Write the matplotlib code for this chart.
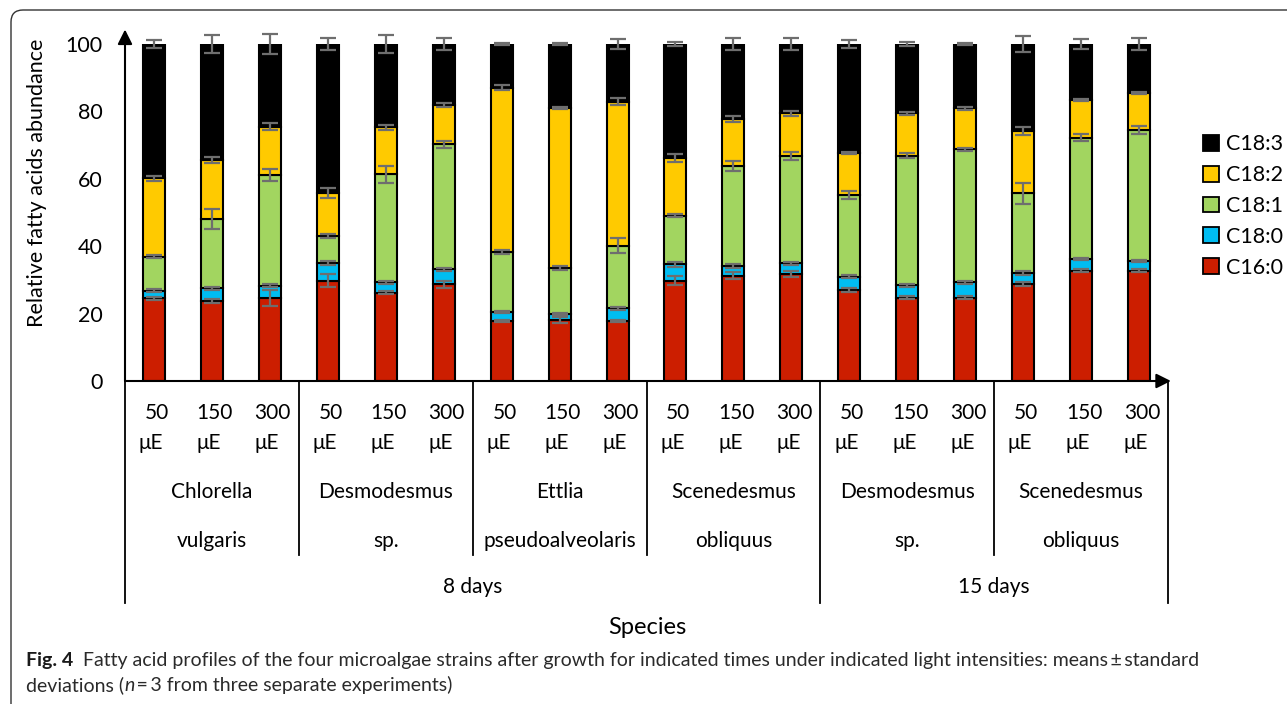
import numpy as np
import matplotlib
matplotlib.use("Agg")
import matplotlib.pyplot as plt
import matplotlib.transforms as mtransforms
from matplotlib.patches import Patch, FancyBboxPatch
from matplotlib.lines import Line2D

plt.rcParams['font.family'] = ['Lato', 'DejaVu Sans']

# light intensities, species and growth times
light = ['50\nμE', '150\nμE', '300\nμE'] * 6
species = ['Chlorella\n\nvulgaris', 'Desmodesmus\n\nsp.', 'Ettlia\n\npseudoalveolaris',
           'Scenedesmus\n\nobliquus', 'Desmodesmus\n\nsp.', 'Scenedesmus\n\nobliquus']
days = ['8 days', '15 days']

acids = ['C16:0', 'C18:0', 'C18:1', 'C18:2', 'C18:3']
colors = ['#CC1E00', '#00BDF2', '#A2D560', '#FFCA00', '#000000']

c16_0 = [24.5, 23.7, 24.7, 29.8, 26.2, 28.7, 17.8, 18.1, 17.8, 29.8, 31.2, 31.7, 27.0, 24.7, 24.7, 28.8, 32.7, 32.7]
c18_0 = [2.3, 3.8, 3.6, 5.3, 3.1, 4.4, 2.6, 1.8, 3.8, 4.8, 2.9, 3.2, 4.0, 3.7, 4.6, 3.3, 3.4, 3.0]
c18_1 = [10.1, 20.6, 32.8, 8.0, 32.0, 37.1, 18.0, 13.5, 18.6, 14.5, 29.7, 31.9, 24.2, 38.5, 39.4, 23.6, 36.1, 38.8]
c18_2 = [23.2, 17.5, 14.4, 12.8, 14.0, 11.7, 48.6, 47.5, 42.7, 17.0, 13.9, 12.6, 12.4, 12.5, 12.2, 18.5, 11.2, 11.0]
c18_3 = [39.9, 34.4, 24.5, 44.1, 24.7, 18.1, 13.0, 19.1, 17.1, 33.9, 22.3, 20.6, 32.4, 20.6, 19.1, 25.8, 16.6, 14.5]

err_c16_0 = [0.5, 0.5, 2.3, 2.0, 0.5, 1.0, 0.3, 0.8, 0.3, 1.4, 1.0, 0.8, 0.5, 0.5, 0.5, 0.5, 0.5, 0.5]
err_c18_0 = [0.5, 0.5, 0.5, 0.6, 0.5, 0.5, 0.3, 0.4, 0.4, 0.8, 0.5, 0.5, 0.5, 0.5, 0.5, 0.5, 0.3, 0.3]
err_c18_1 = [0.5, 3.0, 1.8, 0.6, 2.5, 1.1, 0.6, 0.6, 2.1, 0.5, 1.6, 1.3, 1.1, 0.8, 0.5, 3.1, 1.0, 1.2]
err_c18_2 = [0.7, 0.9, 1.0, 1.5, 0.7, 0.5, 0.7, 0.3, 1.0, 1.2, 0.8, 0.7, 0.3, 0.5, 0.5, 1.2, 0.3, 0.3]
err_c18_3 = [1.1, 2.6, 3.1, 1.8, 2.6, 1.7, 0.2, 0.2, 1.4, 0.7, 1.8, 1.8, 1.3, 0.7, 0.2, 2.3, 1.6, 1.8]

values = [c16_0, c18_0, c18_1, c18_2, c18_3]
errors = [err_c16_0, err_c18_0, err_c18_1, err_c18_2, err_c18_3]

W, H = 1287, 704
fig = plt.figure(figsize=(W / 100, H / 100), dpi=100)

def fy(py):
    return 1 - py / H

ax = fig.add_axes([125 / W, fy(381), (1168 - 125) / W, (381 - 44) / H])
x = np.arange(len(c16_0))

bottom = np.zeros(len(x))
tops = []
for vals, col in zip(values, colors):
    ax.bar(x, vals, width=0.38, bottom=bottom, color=col, edgecolor='black', linewidth=1.5, zorder=2)
    bottom = bottom + np.array(vals)
    tops.append(bottom.copy())

for top, err in zip(tops, errors):
    ax.errorbar(x, top, yerr=err, fmt='none', ecolor='#6e6e6e', elinewidth=1.6,
                capsize=5.5, capthick=1.6, zorder=3, clip_on=False)

ax.set_xlim(-0.5, 17.5)
ax.set_ylim(0, 100)
ax.set_xticks([])
ax.set_yticks([0, 20, 40, 60, 80, 100])
ax.tick_params(axis='y', length=0, pad=16, labelsize=15.5)
for s in ax.spines.values():
    s.set_visible(False)

arrow = dict(arrowstyle='-|>', mutation_scale=22, lw=1.5, color='black', shrinkA=0, shrinkB=0)
ax.annotate('', xy=(-0.5, 104.3), xytext=(-0.5, 0), arrowprops=arrow, annotation_clip=False)
ax.annotate('', xy=(17.55, 0), xytext=(-0.5, 0), arrowprops=arrow, annotation_clip=False)

fig.text(37 / W, fy(183), 'Relative fatty acids abundance', rotation=90,
         ha='center', va='center', fontsize=15.5)

# category axis below the bars
tr = mtransforms.blended_transform_factory(ax.transData, fig.transFigure)
for i, lab in enumerate(light):
    top, bot = lab.split('\n')
    ax.text(i + 0.05, fy(413), top, transform=tr, ha='center', va='center', fontsize=15)
    ax.text(i - 0.05, fy(443), bot, transform=tr, ha='center', va='center', fontsize=15)
for g, name in enumerate(species):
    l1, _, l2 = name.split('\n')
    ax.text(3 * g + 1, fy(492), l1, transform=tr, ha='center', va='center', fontsize=15)
    ax.text(3 * g + 1, fy(541), l2, transform=tr, ha='center', va='center', fontsize=15)
ax.text(5.5, fy(587), days[0], transform=tr, ha='center', va='center', fontsize=15)
ax.text(14.5, fy(587), days[1], transform=tr, ha='center', va='center', fontsize=15)

for xs in [2.5, 5.5, 8.5, 14.5]:
    fig.add_artist(Line2D([xs, xs], [fy(381), fy(555)], transform=tr, color='black', lw=1.3))
for xs in [-0.5, 11.5, 17.5]:
    fig.add_artist(Line2D([xs, xs], [fy(381), fy(603)], transform=tr, color='black', lw=1.3))

fig.text(647 / W, fy(627), 'Species', ha='center', va='center', fontsize=17)

handles = [Patch(facecolor=c, edgecolor='black', linewidth=1.3) for c in colors[::-1]]
fig.legend(handles, acids[::-1], loc='center left', bbox_to_anchor=(1203 / W, fy(206)),
           frameon=False, fontsize=15.5, handlelength=0.75, handleheight=0.75,
           handletextpad=0.3, labelspacing=0.5, borderpad=0, borderaxespad=0)

# caption
cap = 14
t1 = fig.text(26 / W, fy(669), 'Fig. 4', fontsize=cap, fontweight='bold', color='#1a1a1a',
              ha='left', va='bottom')
ax.annotate('  Fatty acid profiles of the four microalgae strains after growth for indicated times '
            'under indicated light intensities: means\u2009±\u2009standard',
            xy=(1, 0), xycoords=t1, ha='left', va='bottom', fontsize=cap, color='#2a2a2a',
            annotation_clip=False)
t2 = fig.text(26 / W, fy(694), 'deviations (', fontsize=cap, color='#2a2a2a', ha='left', va='bottom')
t3 = ax.annotate('n', xy=(1, 0), xycoords=t2, ha='left', va='bottom', fontsize=cap,
                 style='italic', color='#2a2a2a', annotation_clip=False)
ax.annotate('\u2009=\u20093 from three separate experiments)', xy=(1, 0), xycoords=t3,
            ha='left', va='bottom', fontsize=cap, color='#2a2a2a', annotation_clip=False)

frame = FancyBboxPatch((0.11, -0.5), 14, 7.04 - 0.10 + 0.5, boxstyle='round,pad=0,rounding_size=0.12',
                       transform=fig.dpi_scale_trans, facecolor='none', edgecolor='#333333', lw=1)
fig.add_artist(frame)

fig.savefig('out.png', dpi=100)
